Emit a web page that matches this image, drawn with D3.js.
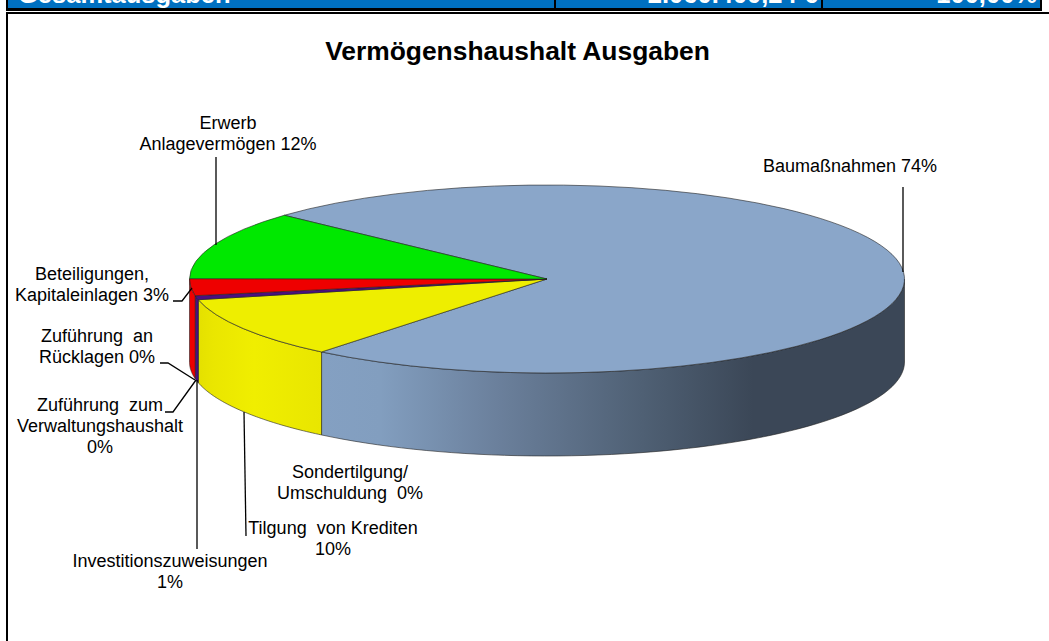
<!DOCTYPE html>
<html><head><meta charset="utf-8">
<script src="https://cdn.jsdelivr.net/npm/d3@7/dist/d3.min.js"></script>
<style>html,body{margin:0;padding:0;background:#fff;overflow:hidden}svg{display:block}text{font-family:"Liberation Sans",Arial,sans-serif}</style>
</head><body><svg id="c" width="1049" height="641"></svg>
<script>
const categories = ["Baumaßnahmen","Sondertilgung/ Umschuldung","Tilgung von Krediten","Investitionszuweisungen","Zuführung zum Verwaltungshaushalt","Zuführung an Rücklagen","Beteiligungen, Kapitaleinlagen","Erwerb Anlagevermögen"];
const values = [74, 0, 10.6, 0.7, 0, 0, 2.9, 11.8];
const colors = ["#8aa6c9","#8aa6c9","#eeee00","#4b0f80","#4b0f80","#4b0f80","#ee0000","#00e800"];
const title = "Vermögenshaushalt Ausgaben";
const labelLines = [
  ["Baumaßnahmen 74%"],
  ["Sondertilgung/","Umschuldung  0%"],
  ["Tilgung  von Krediten","10%"],
  ["Investitionszuweisungen","1%"],
  ["Zuführung  zum","Verwaltungshaushalt","0%"],
  ["Zuführung  an","Rücklagen 0%"],
  ["Beteiligungen,","Kapitaleinlagen 3%"],
  ["Erwerb","Anlagevermögen 12%"]
];
const headerCells = ["Gesamtausgaben","2.060.400,24 €","100,00%"];

// layout
const cx=547, cy=279, rx=357.5, ry=94, depth=83;
const labelPos=[[850,172],[350,478],[333,534],[170,567],[100,411],[97,342],[92,280],[228,129]];
const leaders=[
 [[903,187],[903,272]],
 null,
 [[244,412],[246,536]],
 [[197,380],[197,549]],
 [[165,412],[173,412],[196,380]],
 [[160,363],[168,363],[195,380]],
 [[173,301],[182,301],[192,288]],
 [[216,157],[216,245]]
];

const svg=d3.select("#c");
const defs=svg.append("defs");
function grad(id,x1,x2,stops){
  const g=defs.append("linearGradient").attr("id",id).attr("gradientUnits","userSpaceOnUse")
    .attr("x1",x1).attr("x2",x2).attr("y1",0).attr("y2",0);
  stops.forEach(s=>g.append("stop").attr("offset",s[0]).attr("stop-color",s[1]));
}
grad("gBlue",322,904,[[0,"#84a0c2"],[0.1,"#829ebf"],[0.3,"#6b809c"],[0.55,"#4f6074"],[0.74,"#3b4757"],[1,"#3b4757"]]);
grad("gYellow",198,322,[[0,"#e4e000"],[0.12,"#eae600"],[0.45,"#f0ee00"],[1,"#e9e600"]]);

// header strip (cut off by the page top)
svg.append("rect").attr("x",6).attr("y",-5).attr("width",1036).attr("height",16).attr("fill","#000");
svg.append("rect").attr("x",8).attr("y",-5).attr("width",1032).attr("height",13).attr("fill","#0070c0");
[555,822].forEach(x=>svg.append("rect").attr("x",x-1).attr("y",-5).attr("width",2).attr("height",15).attr("fill","#000"));
const hdr=svg.append("g").attr("font-weight","bold").attr("font-size",25.5).attr("fill","#fff");
hdr.append("text").attr("x",18).attr("y",3).text(headerCells[0]);
hdr.append("text").attr("x",818).attr("y",3).attr("text-anchor","end").text(headerCells[1]);
hdr.append("text").attr("x",1037).attr("y",3).attr("text-anchor","end").text(headerCells[2]);

// chart frame
svg.append("path").attr("d","M7,641V13H1049").attr("fill","none").attr("stroke","#000").attr("stroke-width",2);

svg.append("text").attr("x",517.5).attr("y",60).attr("text-anchor","middle")
  .attr("font-weight","bold").attr("font-size",26.4).attr("fill","#000").text(title);

// pie
const startDeg=-47.3;
const pie=d3.pie().sort(null).startAngle(startDeg*Math.PI/180).endAngle((startDeg+360)*Math.PI/180);
const arcs=pie(values).map((a,i)=>({...a,i}));
const sx=d3.scaleLinear().domain([-1,1]).range([cx-rx,cx+rx]);
const sy=d3.scaleLinear().domain([-1,1]).range([cy-ry,cy+ry]);
const px=t=>sx(Math.sin(t)), py=t=>sy(-Math.cos(t));

// walls (visible front half only: angle 90..270 degrees)
const lo=Math.PI/2, hi=3*Math.PI/2;
function wallPath(a0,a1){
  const n=60, top=d3.range(n+1).map(k=>a0+(a1-a0)*k/n);
  const line=d3.line();
  return line([...top.map(t=>[px(t),py(t)]),...top.slice().reverse().map(t=>[px(t),py(t)+depth])])+"Z";
}
const wallFill=i=>i===0?"url(#gBlue)":i===2?"url(#gYellow)":colors[i];
arcs.forEach(a=>{
  if(a.value===0) return;
  [[a.startAngle,a.endAngle],[a.startAngle+2*Math.PI,a.endAngle+2*Math.PI],[a.startAngle-2*Math.PI,a.endAngle-2*Math.PI]].forEach(([s,e])=>{
    const a0=Math.max(s,lo), a1=Math.min(e,hi);
    if(a1>a0) svg.append("path").attr("d",wallPath(a0,a1)).attr("fill",wallFill(a.i))
      .attr("stroke","#222").attr("stroke-width",0.6).attr("stroke-linejoin","round");
  });
});

// top faces
const arc=d3.arc().innerRadius(0).outerRadius(rx);
svg.append("g").attr("transform",`translate(${cx},${cy}) scale(1,${ry/rx})`)
 .selectAll("path").data(arcs.filter(a=>a.value>0)).join("path")
 .attr("d",arc).attr("fill",d=>colors[d.i])
 .attr("stroke","#222").attr("stroke-width",0.6).attr("vector-effect","non-scaling-stroke");

// leaders
const lineGen=d3.line();
svg.append("g").selectAll("path").data(leaders.filter(Boolean)).join("path")
  .attr("d",lineGen).attr("fill","none").attr("stroke","#000").attr("stroke-width",1.3);

// labels
const lg=svg.append("g").attr("font-size",18).attr("fill","#000").attr("text-anchor","middle");
labelLines.forEach((ls,i)=>{
  const t=lg.append("text").attr("x",labelPos[i][0]).attr("y",labelPos[i][1]).style("white-space","pre");
  ls.forEach((l,k)=>t.append("tspan").attr("x",labelPos[i][0]).attr("dy",k?21:0).text(l));
});
</script></body></html>
